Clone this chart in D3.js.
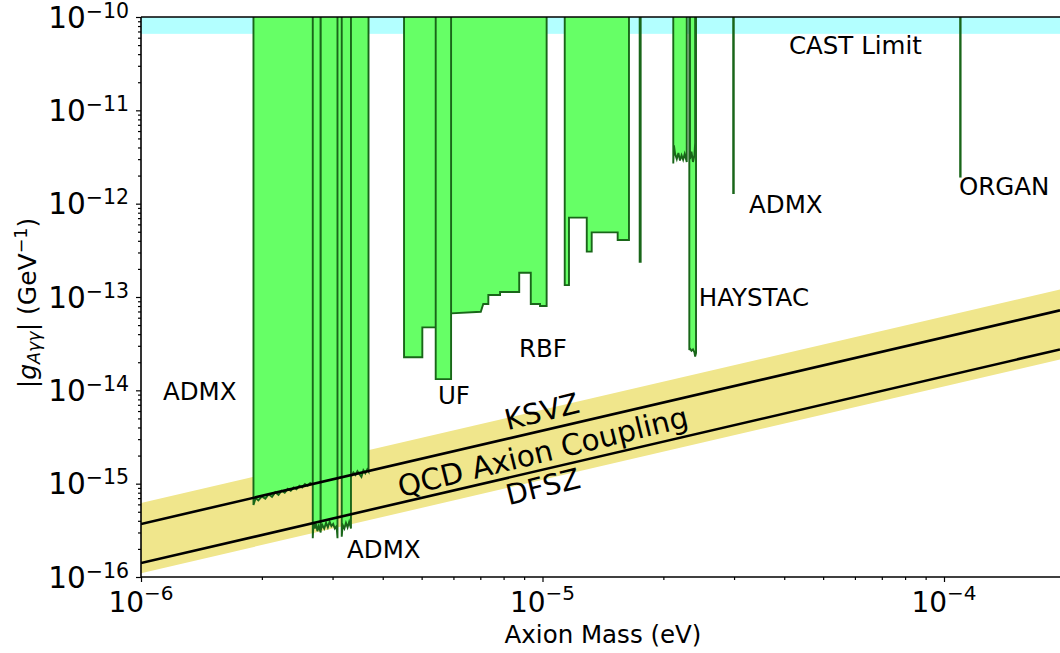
<!DOCTYPE html>
<html><head><meta charset="utf-8">
<script src="https://cdn.jsdelivr.net/npm/d3@7"></script>
<style>body{margin:0;background:#fff} text{font-family:"DejaVu Sans",sans-serif}</style>
</head><body><svg id="c" width="1060" height="653"></svg>
<script>
// ---- data (axion mass in eV, coupling in GeV^-1) ----
const xDomain = [1e-6, 1.945e-4];
const yDomain = [1e-16, 1e-10];
const xTickValues = [1e-6, 1e-5, 1e-4];
const xTickExps = ["\u22126", "\u22125", "\u22124"];
const yTickValues = [1e-16, 1e-15, 1e-14, 1e-13, 1e-12, 1e-11, 1e-10];
const yTickExps = ["\u221216", "\u221215", "\u221214", "\u221213", "\u221212", "\u221211", "\u221210"];
const castLimit = 6.6e-11;
const regionTop = 1e-9;
const ksvz = [[1e-6, 3.7e-16], [1.945e-4, 7.2e-14]];
const dfsz = [[1e-6, 1.41e-16], [1.945e-4, 2.74e-14]];
const bandUpper = [[1e-6, 6.2e-16], [1.945e-4, 1.206e-13]];
const bandLower = [[1e-6, 1.1e-16], [1.945e-4, 2.14e-14]];

const admxOld = [[1.906e-6,5.9e-16],[1.93e-6,7.0e-16],[1.96e-6,6.6e-16],[2.0e-6,7.3e-16],[2.04e-6,6.9e-16],[2.08e-6,7.7e-16],[2.12e-6,7.2e-16],[2.16e-6,8.1e-16],[2.2e-6,7.6e-16],[2.24e-6,8.4e-16],[2.28e-6,8.0e-16],[2.32e-6,8.8e-16],[2.36e-6,8.4e-16],[2.40e-6,9.1e-16],[2.44e-6,8.7e-16],[2.48e-6,9.5e-16],[2.52e-6,9.1e-16],[2.56e-6,9.9e-16],[2.60e-6,9.5e-16],[2.64e-6,10.2e-16],[2.68e-6,9.8e-16],[2.8e-6,10.5e-16],[2.9e-6,10.9e-16],[3.0e-6,11.2e-16],[3.1e-6,11.4e-16],[3.16e-6,11.9e-16],[3.25e-6,12.1e-16],[3.34e-6,12.0e-16],[3.38e-6,13.2e-16],[3.42e-6,12.4e-16],[3.46e-6,13.6e-16],[3.50e-6,12.6e-16],[3.54e-6,11.8e-16],[3.58e-6,13.9e-16],[3.62e-6,12.9e-16],[3.66e-6,14.2e-16],[3.687e-6,13.5e-16]];
const admx2018a = [[2.678e-6,2.6e-16],[2.69e-6,3.9e-16],[2.71e-6,3.3e-16],[2.73e-6,3.7e-16],[2.75e-6,3.1e-16],[2.77e-6,3.5e-16],[2.79e-6,3.2e-16],[2.803e-6,3.0e-16]];
const admx2018b = [[2.803e-6,3.2e-16],[2.83e-6,3.6e-16],[2.86e-6,3.3e-16],[2.89e-6,3.8e-16],[2.92e-6,3.4e-16],[2.95e-6,3.9e-16],[2.98e-6,3.5e-16],[3.01e-6,3.7e-16],[3.04e-6,3.3e-16],[3.07e-6,3.5e-16],[3.086e-6,2.6e-16]];
const admx2018c = [[3.162e-6,2.7e-16],[3.18e-6,3.6e-16],[3.21e-6,3.3e-16],[3.24e-6,3.8e-16],[3.27e-6,3.4e-16],[3.30e-6,3.9e-16],[3.334e-6,3.3e-16]];
const rbf1 = [[4.52e-6,2.26e-14],[5.02e-6,2.26e-14],[5.02e-6,4.73e-14],[5.42e-6,4.73e-14],[5.92e-6,6.68e-14],[7.02e-6,6.95e-14],[7.12e-6,8.41e-14],[7.33e-6,8.41e-14],[7.33e-6,1.05e-13],[7.84e-6,1.05e-13],[7.84e-6,1.13e-13],[8.75e-6,1.13e-13],[8.75e-6,1.82e-13],[9.35e-6,1.82e-13],[9.35e-6,8.41e-14],[9.86e-6,8.41e-14],[9.86e-6,8.0e-14],[1.024e-5,8.0e-14]];
const uf = [[5.42e-6,1.32e-14],[5.92e-6,1.32e-14]];
const rbf2 = [[1.136e-5,1.34e-13],[1.164e-5,1.34e-13],[1.164e-5,7.08e-13],[1.289e-5,7.08e-13],[1.289e-5,3.06e-13],[1.326e-5,3.06e-13],[1.326e-5,4.93e-13],[1.539e-5,4.93e-13],[1.539e-5,4.08e-13],[1.642e-5,4.08e-13]];
const narrow1 = [[1.746e-5,2.39e-13],[1.756e-5,2.39e-13]];
const admxSide = [[2.117e-5,2.7e-12],[2.125e-5,4.2e-12],[2.14e-5,3.4e-12],[2.16e-5,3.0e-12],[2.18e-5,3.5e-12],[2.20e-5,2.9e-12],[2.22e-5,3.3e-12],[2.24e-5,2.95e-12],[2.26e-5,3.4e-12],[2.287e-5,2.8e-12]];
const haystac = [[2.321e-5,2.7e-14],[2.33e-5,2.8e-14],[2.35e-5,2.65e-14],[2.37e-5,2.75e-14],[2.39e-5,2.55e-14],[2.40e-5,2.3e-14],[2.412e-5,2.5e-14]];
const haystacUpper = [[2.33e-5,3.0e-12],[2.35e-5,3.6e-12],[2.37e-5,2.8e-12],[2.39e-5,3.3e-12],[2.40e-5,4.5e-12]];
const admxHigh = [[2.985e-5,1.3e-12],[2.995e-5,1.3e-12]];
const organ = [[1.097e-4,1.95e-12],[1.100e-4,1.95e-12]];
const regions = [admxOld, admx2018a, admx2018b, admx2018c, rbf1, uf, rbf2, narrow1, admxSide, haystac, haystacUpper, admxHigh, organ];

// label anchor: left edge mass, vertical-centre coupling
const labels = [
  {t:"CAST Limit", m:4.11e-5, g:5.0e-11},
  {t:"ADMX", m:1.134e-6, g:9.6e-15},
  {t:"ADMX", m:3.26e-6, g:1.95e-16},
  {t:"ADMX", m:3.27e-5, g:9.9e-13},
  {t:"UF", m:5.49e-6, g:8.9e-15},
  {t:"RBF", m:8.74e-6, g:2.84e-14},
  {t:"HAYSTAC", m:2.45e-5, g:1.0e-13},
  {t:"ORGAN", m:1.09e-4, g:1.51e-12}
];

// ---- drawing ----
const L = 141, R = 1060, T = 17, B = 577;
const svg = d3.select("#c");
const x = d3.scaleLog().domain(xDomain).range([L, R]);
const y = d3.scaleLog().domain(yDomain).range([B, T]);

svg.append("defs").append("clipPath").attr("id", "clip")
  .append("rect").attr("x", L).attr("y", T).attr("width", R - L).attr("height", B - T);
const plot = svg.append("g").attr("clip-path", "url(#clip)");

// CAST band
plot.append("rect").attr("x", L).attr("width", R - L)
  .attr("y", y(regionTop)).attr("height", y(castLimit) - y(regionTop))
  .attr("fill", "#b3ffff");

// QCD band
const bandPts = bandUpper.concat(bandLower.slice().reverse());
plot.append("path").attr("d", d3.line().x(d => x(d[0])).y(d => y(d[1]))(bandPts) + "Z")
  .attr("fill", "#f0e68c");

// exclusion regions
const line = d3.line().x(d => x(d[0])).y(d => y(d[1]));
regions.forEach(r => {
  const pts = [[r[0][0], regionTop]].concat(r, [[r[r.length - 1][0], regionTop]]);
  plot.append("path").attr("d", line(pts) + "Z")
    .attr("fill", "#66ff66").attr("stroke", "#196619").attr("stroke-width", 1.9)
    .attr("stroke-linejoin", "miter");
});

// model lines
[ksvz, dfsz].forEach(l => {
  plot.append("path").attr("d", line(l)).attr("fill", "none")
    .attr("stroke", "#000").attr("stroke-width", 2.6);
});

// texts
labels.forEach(d => {
  svg.append("text").attr("x", x(d.m)).attr("y", y(d.g)).text(d.t)
    .attr("dominant-baseline", "central")
    .attr("font-size", 24.5).attr("fill", "#000");
});
const ang = -13.8;
[["KSVZ", 542, 412, 28.5], ["QCD Axion Coupling", 543, 452, 29.5], ["DFSZ", 543, 487, 28.5]].forEach(([t, cx, cy, fs]) => {
  svg.append("text").attr("transform", `translate(${cx},${cy}) rotate(${ang})`)
    .attr("text-anchor", "middle").attr("dominant-baseline", "central")
    .attr("font-size", fs).text(t);
});

// axes
const xMinor = [];
for (let e = -6; e <= -4; e++) for (let k = 2; k <= 9; k++) { const v = k * Math.pow(10, e); if (v <= xDomain[1]) xMinor.push(v); }
const yMinor = [];
for (let e = -16; e < -10; e++) for (let k = 2; k <= 9; k++) yMinor.push(k * Math.pow(10, e));

svg.append("g").attr("transform", `translate(0,${B})`)
  .call(d3.axisBottom(x).tickValues(xMinor).tickSize(3).tickFormat(""))
  .call(g => g.select(".domain").remove());
svg.append("g").attr("transform", `translate(0,${B})`)
  .call(d3.axisBottom(x).tickValues(xTickValues).tickSize(5).tickFormat(""))
  .call(g => g.select(".domain").remove());
svg.append("g").attr("transform", `translate(${L},0)`)
  .call(d3.axisLeft(y).tickValues(yMinor).tickSize(3).tickFormat(""))
  .call(g => g.select(".domain").remove());
svg.append("g").attr("transform", `translate(${L},0)`)
  .call(d3.axisLeft(y).tickValues(yTickValues).tickSize(5).tickFormat(""))
  .call(g => g.select(".domain").remove());
svg.selectAll(".tick line").attr("stroke", "#000").attr("stroke-width", 1.2);

// spines
svg.append("line").attr("x1", L).attr("x2", L).attr("y1", T).attr("y2", B).attr("stroke", "#000").attr("stroke-width", 1.6);
svg.append("line").attr("x1", L).attr("x2", R).attr("y1", B).attr("y2", B).attr("stroke", "#000").attr("stroke-width", 1.6);
svg.append("line").attr("x1", L).attr("x2", R).attr("y1", T).attr("y2", T).attr("stroke", "#000").attr("stroke-width", 1.6);

// tick labels
xTickValues.forEach((v, i) => {
  const t = svg.append("text").attr("x", x(v)).attr("y", 612).attr("text-anchor", "middle").attr("font-size", 28);
  t.append("tspan").text("10");
  t.append("tspan").attr("font-size", 20).attr("dy", -12).text(xTickExps[i]);
});
yTickValues.forEach((v, i) => {
  const t = svg.append("text").attr("x", 129).attr("y", y(v) + 10.5).attr("text-anchor", "end").attr("font-size", 29.5);
  t.append("tspan").text("10");
  t.append("tspan").attr("font-size", 20.5).attr("dy", -10).text(yTickExps[i]);
});

// axis labels
svg.append("text").attr("x", 603).attr("y", 643).attr("text-anchor", "middle").attr("font-size", 24.5).text("Axion Mass (eV)");
const yl = svg.append("text").attr("transform", "translate(36,303) rotate(-90)").attr("text-anchor", "middle").attr("font-size", 25);
yl.append("tspan").text("|");
yl.append("tspan").attr("font-style", "italic").text("g");
yl.append("tspan").attr("font-style", "italic").attr("font-size", 17.5).attr("dy", 4).text("A\u03b3\u03b3");
yl.append("tspan").attr("dy", -4).text("| (GeV");
yl.append("tspan").attr("font-size", 17.5).attr("dy", -9).text("\u22121");
yl.append("tspan").attr("dy", 9).text(")");
</script></body></html>
